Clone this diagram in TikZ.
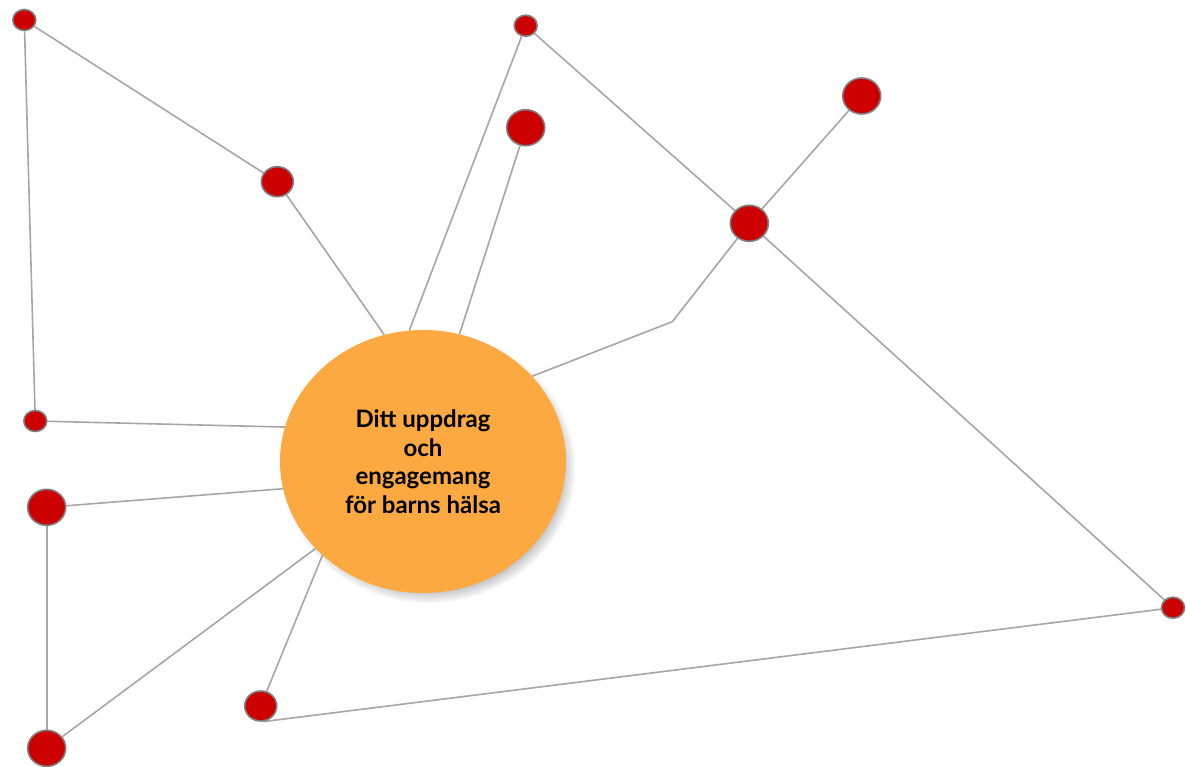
\documentclass[tikz,border=0pt]{standalone}
\usepackage{fontspec}
\setmainfont{Lato}
\usetikzlibrary{shapes.geometric,shadows,backgrounds}

\definecolor{hubfill}{HTML}{FBA940}
\definecolor{knotred}{HTML}{CC0000}
\definecolor{knotrim}{HTML}{7F7F7F}
\definecolor{linkgray}{HTML}{ABA3A6}

\begin{document}
\begin{tikzpicture}[x=1pt,y=-1pt,
  knot/.style={ellipse,draw=knotrim,line width=1.6pt,fill=knotred,inner sep=0pt},
  knotS/.style={knot,minimum width=23pt,minimum height=21pt},
  knotM/.style={knot,minimum width=32pt,minimum height=30pt},
  knotL/.style={knot,minimum width=38pt,minimum height=36pt},
  link/.style={draw=linkgray,line width=1.6pt}]
  \useasboundingbox (0,0) rectangle (1186,767);

  % centre
  \node[ellipse,fill=hubfill,minimum width=286pt,minimum height=263pt,inner sep=0pt,
        align=center,font=\bfseries\fontsize{24}{28.6}\selectfont,
        circular drop shadow={shadow scale=1.03,shadow xshift=5pt,shadow yshift=-6pt,opacity=.75}]
    (hub) at (423,461.5) {Ditt uppdrag\\och\\engagemang\\för barns hälsa};

  % outer points
  \node[knotS] (a) at (24.3,20) {};
  \node[knotM] (b) at (277.3,181.7) {};
  \node[knotS] (c) at (525.7,25.7) {};
  \node[knotL] (d) at (525.7,127.7) {};
  \node[knotL] (e) at (861.7,96) {};
  \node[knotL] (f) at (749.3,223.3) {};
  \node[knotS] (g) at (35.3,421) {};
  \node[knotL] (h) at (46.7,507.3) {};
  \node[knotL] (i) at (46.7,748.3) {};
  \node[knotM] (j) at (260.7,706) {};
  \node[knotS] (k) at (1173,607.7) {};
  \coordinate (bend) at (672.3,321.7);

  \begin{scope}[on background layer]
    \draw[link] (a) -- (b);
    \draw[link] (a) -- (g);
    \draw[link] (b) -- (hub.107.5);
    \draw[link] (c) -- (hub.96.5);
    \draw[link] (c) -- (f);
    \draw[link] (d) -- (hub.74.8);
    \draw[link] (e) -- (f);
    \draw[link] (f) -- (bend) -- (hub.38.6);
    \draw[link] (f) -- (k);
    \draw[link] (g) -- (hub.166);
    \draw[link] (h) -- (hub.191.7);
    \draw[link] (h) -- (i);
    \draw[link] (i) -- (hub.219.4);
    \draw[link] (j) -- (hub.223.1);
    \draw[link] (j.-80) -- (k);
  \end{scope}
\end{tikzpicture}
\end{document}
